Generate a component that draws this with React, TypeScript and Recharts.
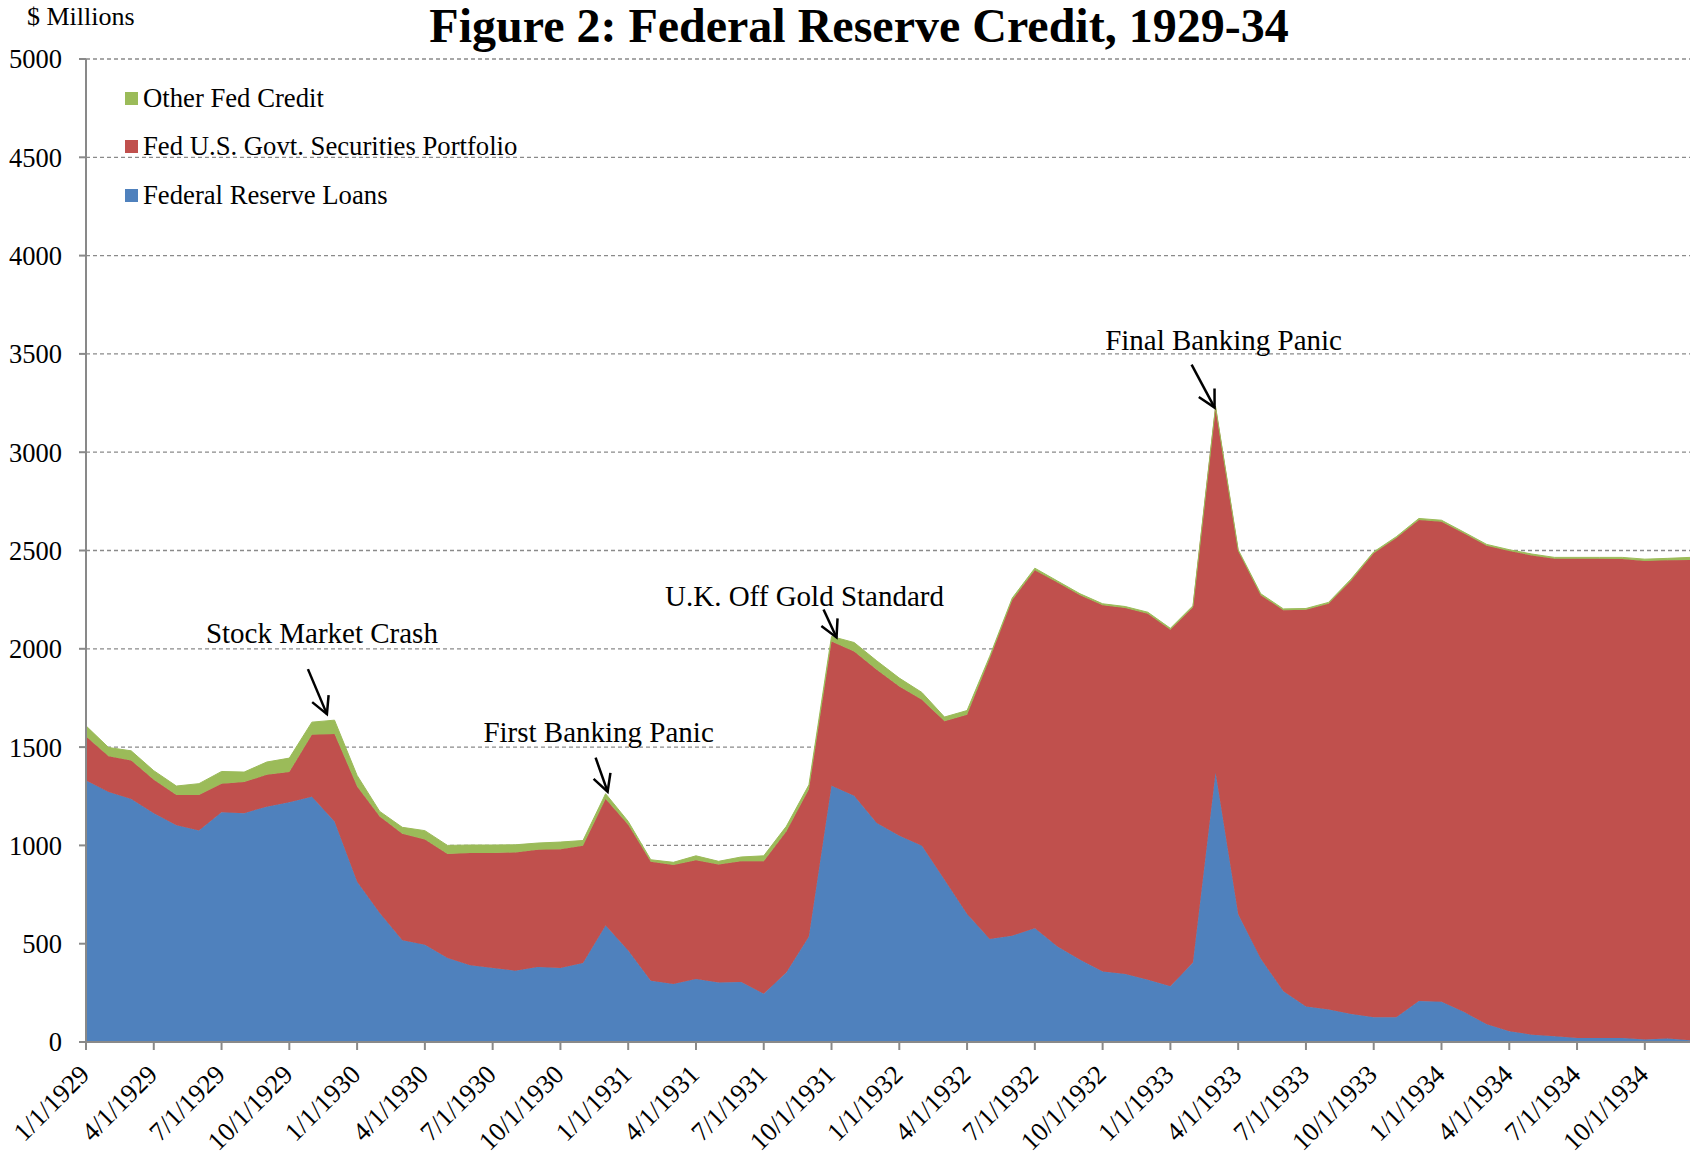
import React from 'react';
import { AreaChart, Area, XAxis, YAxis, CartesianGrid, Legend, ReferenceDot } from 'recharts';

const FONT = '"Liberation Serif", "Times New Roman", Times, serif';

// ---- Categories (monthly, 1929-1934) ----
const months = [
  '1/1/1929', '2/1/1929', '3/1/1929', '4/1/1929', '5/1/1929', '6/1/1929', '7/1/1929', '8/1/1929', '9/1/1929', '10/1/1929', '11/1/1929', '12/1/1929',
  '1/1/1930', '2/1/1930', '3/1/1930', '4/1/1930', '5/1/1930', '6/1/1930', '7/1/1930', '8/1/1930', '9/1/1930', '10/1/1930', '11/1/1930', '12/1/1930',
  '1/1/1931', '2/1/1931', '3/1/1931', '4/1/1931', '5/1/1931', '6/1/1931', '7/1/1931', '8/1/1931', '9/1/1931', '10/1/1931', '11/1/1931', '12/1/1931',
  '1/1/1932', '2/1/1932', '3/1/1932', '4/1/1932', '5/1/1932', '6/1/1932', '7/1/1932', '8/1/1932', '9/1/1932', '10/1/1932', '11/1/1932', '12/1/1932',
  '1/1/1933', '2/1/1933', '3/1/1933', '4/1/1933', '5/1/1933', '6/1/1933', '7/1/1933', '8/1/1933', '9/1/1933', '10/1/1933', '11/1/1933', '12/1/1933',
  '1/1/1934', '2/1/1934', '3/1/1934', '4/1/1934', '5/1/1934', '6/1/1934', '7/1/1934', '8/1/1934', '9/1/1934', '10/1/1934', '11/1/1934', '12/1/1934',
];

// ---- Series values ($ millions) ----
const loans = [
  1330, 1271, 1236, 1164, 1102, 1076, 1169, 1164, 1197, 1220, 1247, 1122,
  815, 656, 517, 495, 427, 390, 376, 363, 381, 376, 402, 592,
  466, 312, 295, 320, 303, 305, 246, 354, 537, 1303, 1253, 1114,
  1049, 998, 825, 651, 524, 541, 578, 486, 419, 359, 346, 317,
  284, 405, 1370, 650, 423, 258, 181, 165, 143, 126, 126, 209,
  205, 152, 90, 55, 37, 29, 20, 20, 20, 13, 18, 9,
];

const securities = [
  224, 183, 196, 170, 154, 180, 145, 158, 162, 153, 316, 444,
  485, 491, 542, 535, 529, 571, 585, 601, 597, 605, 596, 644,
  639, 605, 605, 604, 600, 614, 673, 717, 748, 734, 733, 779,
  759, 743, 806, 1013, 1426, 1707, 1822, 1851, 1853, 1862, 1861, 1861,
  1813, 1806, 1855, 1847, 1850, 1938, 2017, 2064, 2205, 2360, 2437, 2446,
  2441, 2434, 2434, 2442, 2438, 2429, 2438, 2438, 2437, 2434, 2432, 2443,
];

const other = [
  54, 44, 49, 46, 46, 58, 62, 51, 65, 71, 64, 71,
  56, 26, 33, 45, 44, 41, 41, 39, 34, 36, 27, 27,
  17, 10, 14, 23, 16, 22, 28, 26, 23, 26, 46, 46,
  43, 37, 22, 22, 11, 10, 10, 8, 8, 8, 8, 8,
  7, 8, 7, 7, 7, 7, 7, 7, 7, 7, 7, 8,
  8, 7, 7, 7, 7, 7, 7, 7, 8, 9, 10, 13,
];

// ---- Axis ticks ----
const yTicks = [0, 500, 1000, 1500, 2000, 2500, 3000, 3500, 4000, 4500, 5000];

// ---- Series names ----
const seriesNames = ['Federal Reserve Loans', 'Fed U.S. Govt. Securities Portfolio', 'Other Fed Credit'];

// ---- Annotations ----
const annotationLabels = ['Stock Market Crash', 'First Banking Panic', 'U.K. Off Gold Standard', 'Final Banking Panic'];
const annotationDates = ['11/1/1929', '12/1/1930', '10/1/1931', '3/1/1933'];

const titleText = 'Figure 2: Federal Reserve Credit, 1929-34';
const unitText = '$ Millions';

// ---- Styles ----
const COLORS = ['#4F81BD', '#C0504D', '#9BBB59'];
const AXIS_COLOR = '#898989';
const GRID_COLOR = '#8a8a8a';

// pixel offsets of annotation pieces relative to the anchored data point
const annotationLayout = [
  { tip: [15, -8], tail: [-4, -53], text: [10, -79] },
  { tip: [2, -2], tail: [-10, -36], text: [-7, -52] },
  { tip: [5, 1], tail: [-8, -27], text: [-27, -30] },
  { tip: [-1, 1], tail: [-24, -42], text: [8, -57] },
];

const data = months.map((m, i) => ({
  date: m,
  loans: loans[i],
  securities: securities[i],
  other: other[i],
}));

const XTick = (props: any) => {
  const { x, y, payload } = props;
  const ax = x + 5;
  const ay = y + 24;
  return (
    <text
      x={ax}
      y={ay}
      transform={`rotate(-45, ${ax}, ${ay})`}
      textAnchor="end"
      fontSize={26.5}
      fontFamily={FONT}
      fill="#000"
    >
      {payload.value}
    </text>
  );
};

const makeArrowShape = (idx: number) => (props: any) => {
  const { cx, cy } = props;
  if (cx == null || cy == null) return <g />;
  const lay = annotationLayout[idx];
  const tx = cx + lay.tip[0];
  const ty = cy + lay.tip[1];
  const sx = cx + lay.tail[0];
  const sy = cy + lay.tail[1];
  const dx = sx - tx;
  const dy = sy - ty;
  const len = Math.sqrt(dx * dx + dy * dy);
  const ux = dx / len;
  const uy = dy / len;
  const ang = (28 * Math.PI) / 180;
  const wl = 19;
  const w1x = tx + wl * (ux * Math.cos(ang) - uy * Math.sin(ang));
  const w1y = ty + wl * (ux * Math.sin(ang) + uy * Math.cos(ang));
  const w2x = tx + wl * (ux * Math.cos(-ang) - uy * Math.sin(-ang));
  const w2y = ty + wl * (ux * Math.sin(-ang) + uy * Math.cos(-ang));
  return (
    <g>
      <line x1={sx} y1={sy} x2={tx} y2={ty} stroke="#000" strokeWidth={2.5} />
      <polyline
        points={`${w1x},${w1y} ${tx},${ty} ${w2x},${w2y}`}
        fill="none"
        stroke="#000"
        strokeWidth={2.5}
      />
      <text
        x={cx + lay.text[0]}
        y={cy + lay.text[1]}
        textAnchor="middle"
        fontSize={29}
        fontFamily={FONT}
        fill="#000"
      >
        {annotationLabels[idx]}
      </text>
    </g>
  );
};

const legendOrder = [2, 1, 0];

const renderLegend = () => (
  <div style={{ fontFamily: FONT, fontSize: 26.7, color: '#000' }}>
    {legendOrder.map((k) => (
      <div key={k} style={{ display: 'flex', alignItems: 'center', height: 48.5, whiteSpace: 'nowrap' }}>
        <span style={{ display: 'inline-block', width: 13, height: 13, background: COLORS[k], marginRight: 5 }} />
        <span>{seriesNames[k]}</span>
      </div>
    ))}
  </div>
);

export default function App() {
  return (
    <div style={{ position: 'relative', width: 1690, height: 1163, background: '#fff' }}>
      <style>{`body{margin:0;background:#fff;}`}</style>
      <AreaChart
        width={1690}
        height={1163}
        data={data}
        margin={{ top: 59, right: 0, bottom: 0, left: 0 }}
      >
        <CartesianGrid vertical={false} stroke={GRID_COLOR} strokeDasharray="4 3" strokeWidth={1.3} />
        <XAxis
          dataKey="date"
          interval={2}
          height={121}
          tickSize={8}
          tickLine={{ stroke: AXIS_COLOR, strokeWidth: 2 }}
          axisLine={{ stroke: AXIS_COLOR, strokeWidth: 2 }}
          tick={<XTick />}
        />
        <YAxis
          type="number"
          domain={[0, 5000]}
          ticks={yTicks}
          width={86}
          tickSize={7}
          tickMargin={17}
          interval={0}
          tickLine={{ stroke: AXIS_COLOR, strokeWidth: 2 }}
          axisLine={{ stroke: AXIS_COLOR, strokeWidth: 2 }}
          tick={{ fontSize: 26.5, fontFamily: FONT, fill: '#000' }}
        />
        <Area
          type="linear"
          dataKey="loans"
          name={seriesNames[0]}
          stackId="1"
          stroke={COLORS[0]}
          strokeWidth={1}
          fill={COLORS[0]}
          fillOpacity={1}
          isAnimationActive={false}
          dot={false}
          activeDot={false}
        />
        <Area
          type="linear"
          dataKey="securities"
          name={seriesNames[1]}
          stackId="1"
          stroke={COLORS[1]}
          strokeWidth={1}
          fill={COLORS[1]}
          fillOpacity={1}
          isAnimationActive={false}
          dot={false}
          activeDot={false}
        />
        <Area
          type="linear"
          dataKey="other"
          name={seriesNames[2]}
          stackId="1"
          stroke={COLORS[2]}
          strokeWidth={1}
          fill={COLORS[2]}
          fillOpacity={1}
          isAnimationActive={false}
          dot={false}
          activeDot={false}
        />
        <Legend
          layout="vertical"
          align="center"
          verticalAlign="middle"
          content={renderLegend}
          wrapperStyle={{ left: 125, top: 74, width: 'auto', height: 'auto' }}
        />
        {annotationDates.map((d, idx) => {
          const i = months.indexOf(d);
          const total = loans[i] + securities[i] + other[i];
          return (
            <ReferenceDot
              key={d}
              x={d}
              y={total}
              r={0}
              ifOverflow="visible"
              shape={makeArrowShape(idx)}
            />
          );
        })}
      </AreaChart>
      <svg
        width={1690}
        height={1163}
        style={{ position: 'absolute', left: 0, top: 0, pointerEvents: 'none' }}
      >
        <text x={859} y={42} textAnchor="middle" fontSize={48} fontWeight="bold" fontFamily={FONT} fill="#000">
          {titleText}
        </text>
        <text x={27} y={25} fontSize={26} fontFamily={FONT} fill="#000">
          {unitText}
        </text>
      </svg>
    </div>
  );
}
